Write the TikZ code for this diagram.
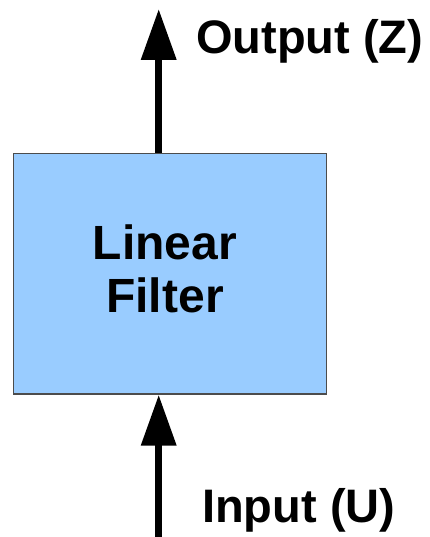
\documentclass[tikz,border=0pt]{standalone}
\usepackage{fontspec}
\setmainfont{Liberation Sans}
\usetikzlibrary{arrows.meta}
\tikzset{
  filterbox/.style={draw=black!70, line width=1.5pt, fill=boxblue, inner sep=0pt},
  flow/.style={line width=7pt, -{Triangle[width=34pt,length=51pt]}},
  lbl/.style={font=\fontsize{47}{53}\selectfont\bfseries, inner sep=0pt},
}
\definecolor{boxblue}{HTML}{99CCFF}
\begin{document}
\begin{tikzpicture}[x=1pt,y=1pt]
  \useasboundingbox (0,0) rectangle (429,537);
  % the filter block
  \node[filterbox, minimum width=313pt, minimum height=240.5pt] (filt) at (170,263.25) {};
  \node[lbl, font=\fontsize{48}{53}\selectfont\bfseries, align=center] (name) at (165,268) {Linear\\Filter};
  % signal ends
  \coordinate (otip) at (158.7,528);
  \coordinate (ibase) at (158.7,0);
  \coordinate (ofoot) at (filt.north -| otip);
  \coordinate (ihead) at (filt.south -| ibase);
  \draw[flow] (ofoot) -- (otip);
  \draw[flow] (ibase) -- (ihead);
  % labels
  \node[lbl, anchor=base west] (outl) at (196,483) {Output (Z)};
  \node[lbl, anchor=base west] (inl) at (202,14) {Input (U)};
\end{tikzpicture}
\end{document}
